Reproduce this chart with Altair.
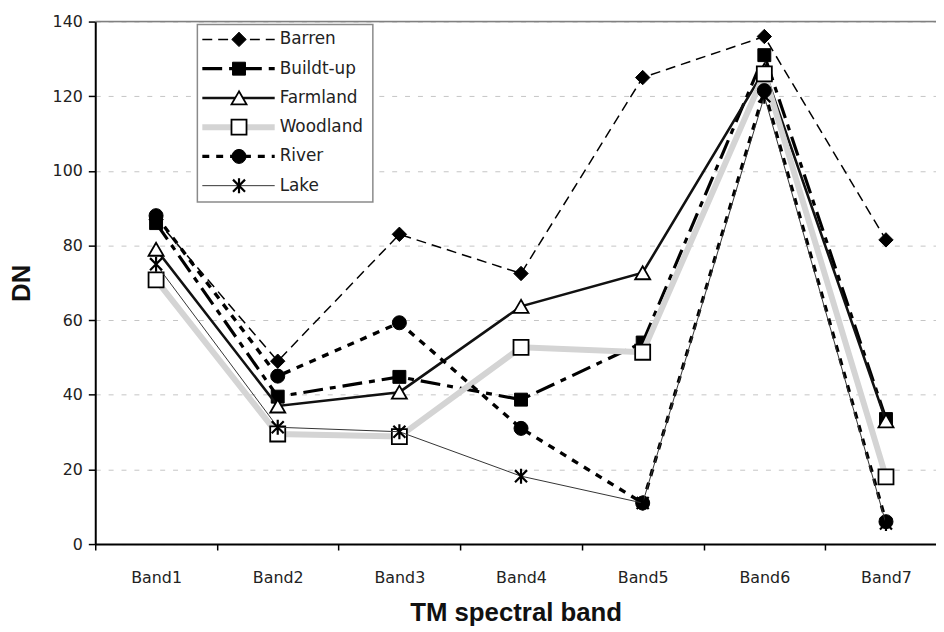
import json
import altair as alt
import pandas as pd

# ---- data ----
bands = ["Band1", "Band2", "Band3", "Band4", "Band5", "Band6", "Band7"]
barren = [87, 49, 83, 72.5, 125, 136, 81.5]
builtup = [86, 39.5, 44.8, 38.7, 54, 131, 33.5]
farmland = [79, 37, 40.7, 63.7, 72.7, 127, 33]
woodland = [70.8, 29.5, 28.8, 52.7, 51.4, 126, 18]
river = [88, 45, 59.3, 31, 11, 121.5, 6]
lake = [75, 31.3, 30.1, 18.2, 11, 120, 5.5]
series_names = ["Barren", "Buildt-up", "Farmland", "Woodland", "River", "Lake"]
y_ticks = [0, 20, 40, 60, 80, 100, 120, 140]

W, H = 848, 527
STEP = 122.7
FONT = "DejaVu Sans"
TFONT = "Liberation Sans"

ASTERISK = "M0,-1L0,1M-0.8,-0.8L0.8,0.8M-0.8,0.8L0.8,-0.8"

styles = {
    "Barren": dict(line=dict(color="black", strokeWidth=1.5, strokeDash=[10, 6]),
                   point=dict(shape="diamond", filled=True, fill="black", stroke="black", strokeWidth=1, size=210)),
    "Buildt-up": dict(line=dict(color="black", strokeWidth=3.2, strokeDash=[20, 7, 6, 7]),
                      point=dict(shape="square", filled=True, fill="black", stroke="black", strokeWidth=1, size=170)),
    "Farmland": dict(line=dict(color="#111111", strokeWidth=2.6),
                     point=dict(shape="triangle-up", filled=True, fill="white", stroke="black", strokeWidth=1.8, size=230)),
    "Woodland": dict(line=dict(color="#d4d4d4", strokeWidth=6),
                     point=dict(shape="square", filled=True, fill="white", stroke="black", strokeWidth=1.8, size=230)),
    "River": dict(line=dict(color="black", strokeWidth=3.4, strokeDash=[7, 7]),
                  point=dict(shape="circle", filled=True, fill="black", stroke="black", strokeWidth=1, size=200)),
    "Lake": dict(line=dict(color="#333333", strokeWidth=1),
                 point=dict(shape=ASTERISK, filled=False, stroke="black", strokeWidth=2.2, size=230)),
}
values = [barren, builtup, farmland, woodland, river, lake]

xdom = [0.5, 0.5 + W / STEP]
xscale = alt.Scale(domain=xdom, nice=False, zero=False)
yscale = alt.Scale(domain=[0, 140], nice=False)

label_expr = json.dumps(bands) + "[round(datum.value - 0.5)]"

x_axis = alt.Axis(
    values=[i + 0.5 for i in range(len(bands))],
    labelExpr=label_expr, labelOffset=STEP / 2, labelFont=FONT, labelFontSize=16,
    labelColor="#222222", labelBaseline="middle", labelPadding=28, labelOverlap=False,
    labelFlush=False, tickSize=6, tickColor="black", tickWidth=1.5,
    domainColor="black", domainWidth=2, grid=False,
    title="TM spectral band", titleFont=TFONT, titleFontSize=26, titleFontWeight="bold",
    titleColor="#111111", titleBaseline="middle", titleY=69,
)
y_axis = alt.Axis(
    values=y_ticks, labelFont=FONT, labelFontSize=16, labelColor="#222222",
    labelPadding=6, tickSize=7, tickColor="black", tickWidth=1.5,
    domainColor="black", domainWidth=2,
    grid=True, gridColor="#c4c4c4", gridDash=[5, 8], gridWidth=1,
    title="DN", titleFont=TFONT, titleFontSize=26, titleFontWeight="bold",
    titleColor="#111111", titleX=-74, titleY=H / 2, titleBaseline="middle", titleAngle=270,
)

layers = []
frame_df = pd.DataFrame({"band": [1.0], "v": [140]})
layers.append(
    alt.Chart(frame_df).mark_rule(color="#808080", strokeWidth=1.5).encode(
        y=alt.Y("v:Q", scale=yscale, axis=y_axis)
    )
)

for name, vals in zip(series_names, values):
    df = pd.DataFrame({"band": [float(i + 1) for i in range(len(bands))], "v": vals, "series": name})
    st = styles[name]
    base = alt.Chart(df).encode(
        x=alt.X("band:Q", scale=xscale, axis=x_axis),
        y=alt.Y("v:Q", scale=yscale, axis=y_axis),
    )
    layers.append(base.mark_line(**st["line"]))
    layers.append(base.mark_point(opacity=1, **st["point"]))

# ---- manual legend ----
leg_df = pd.DataFrame({"n": [0]})
layers.append(
    alt.Chart(leg_df).mark_rect(fill="white", stroke="#8a8a8a", strokeWidth=1.5).encode(
        x=alt.value(103), x2=alt.value(280), y=alt.value(3), y2=alt.value(182)
    )
)
leg_y = [18, 47.5, 77, 106.5, 136, 165.5]
for name, yy in zip(series_names, leg_y):
    st = styles[name]
    d = pd.DataFrame({"name": [name]})
    layers.append(
        alt.Chart(d).mark_rule(**st["line"]).encode(
            x=alt.value(108), x2=alt.value(181), y=alt.value(yy)
        )
    )
    layers.append(
        alt.Chart(d).mark_point(opacity=1, **st["point"]).encode(
            x=alt.value(145), y=alt.value(yy)
        )
    )
    layers.append(
        alt.Chart(d).mark_text(align="left", baseline="middle", font=FONT, fontSize=17,
                               color="#222222").encode(
            x=alt.value(186), y=alt.value(yy), text="name:N"
        )
    )

chart = alt.layer(*layers).properties(
    width=W, height=H,
    padding={"left": 88, "top": 11, "right": 0, "bottom": 86},
    autosize=alt.AutoSizeParams(type="none"),
).configure_view(stroke=None).configure(background="white")

chart.save("out.html", embed_options={"renderer": "svg", "actions": False})
